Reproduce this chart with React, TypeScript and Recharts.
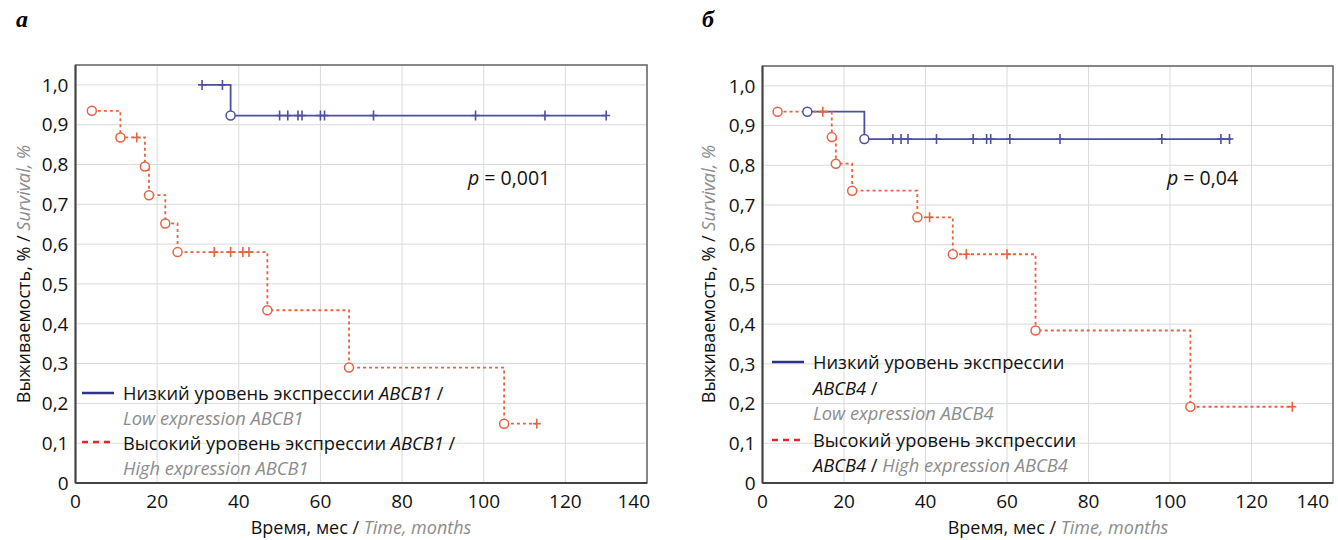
import { ComposedChart, Line, Scatter, XAxis, YAxis, CartesianGrid, ReferenceArea } from 'recharts';

const xTicks = [0, 20, 40, 60, 80, 100, 120, 140];
const yTicks = [0, 0.1, 0.2, 0.3, 0.4, 0.5, 0.6, 0.7, 0.8, 0.9, 1.0];

// panel a — ABCB1
const lowAbcb1Time = [31, 38, 130];
const lowAbcb1Surv = [1.0, 0.923, 0.923];
const lowAbcb1Events = [38];
const lowAbcb1Censored = [31, 36, 50, 52, 54.5, 55.5, 60, 61, 73, 98, 115, 130];

const highAbcb1Time = [4, 11, 17, 18, 22, 25, 47, 67, 105, 113];
const highAbcb1Surv = [0.935, 0.868, 0.795, 0.723, 0.652, 0.58, 0.434, 0.29, 0.149, 0.149];
const highAbcb1Events = [4, 11, 17, 18, 22, 25, 47, 67, 105];
const highAbcb1Censored = [15, 34, 38, 41, 42.5, 113];

// panel б — ABCB4
const lowAbcb4Time = [11, 25, 115];
const lowAbcb4Surv = [0.935, 0.866, 0.866];
const lowAbcb4Events = [11, 25];
const lowAbcb4Censored = [32, 34, 35.7, 42.7, 51.7, 55, 56, 60.7, 73, 98, 112.5, 114.6];

const highAbcb4Time = [3.7, 17, 18, 22, 38, 46.7, 67, 105, 130];
const highAbcb4Surv = [0.935, 0.871, 0.804, 0.736, 0.669, 0.576, 0.384, 0.192, 0.192];
const highAbcb4Events = [3.7, 17, 18, 22, 38, 46.7, 67, 105];
const highAbcb4Censored = [14.8, 41, 50, 60, 130];

const BLUE = '#4c509f';
const RED = '#e8623f';
const GRAY = '#8c8c8c';
const FONT = '"Open Sans", sans-serif';

const toPoints = (t: number[], s: number[]) => t.map((v, i) => ({ t: v, s: s[i] }));

// survival value of a step curve at time x
const survAt = (t: number[], s: number[], x: number) => {
  let v = s[0];
  t.forEach((tt, i) => {
    if (tt <= x) v = s[i];
  });
  return v;
};

const onCurve = (t: number[], s: number[], marks: number[]) =>
  marks.map((m) => ({ t: m, s: survAt(t, s, m) }));

const censorShape = (color: string) => (props: any) => {
  const { cx, cy } = props;
  return (
    <g>
      <line x1={cx} x2={cx} y1={cy - 5} y2={cy + 5} stroke={color} strokeWidth={1.6} />
      <line x1={cx - 4} x2={cx + 4} y1={cy} y2={cy} stroke={color} strokeWidth={1.6} />
    </g>
  );
};

const eventShape = (color: string) => (props: any) => {
  const { cx, cy } = props;
  return <circle cx={cx} cy={cy} r={4.5} fill="#fff" stroke={color} strokeWidth={1.5} />;
};

const fmt = (v: number) => (v === 0 ? '0' : v.toFixed(1).replace('.', ','));

// last x label sits flush against the right border, as in the original
const XTick = (props: any) => {
  const { x, y, payload } = props;
  const last = payload.value === xTicks[xTicks.length - 1];
  return (
    <text
      x={last ? x + 3 : x}
      y={y}
      dy="0.71em"
      textAnchor={last ? 'end' : 'middle'}
      fill="#111"
      fontSize={19}
      fontFamily={FONT}
    >
      {payload.value}
    </text>
  );
};

interface PanelProps {
  width: number;
  top: number;
  right: number;
  axisWidth: number;
  low: { t: number[]; s: number[]; ev: number[]; cens: number[] };
  high: { t: number[]; s: number[]; ev: number[]; cens: number[] };
}

const Panel = ({ width, top, right, axisWidth, low, high }: PanelProps) => (
  <ComposedChart width={width} height={540} margin={{ top, right, bottom: 27, left: 0 }}>
    <CartesianGrid stroke="#dadada" strokeWidth={1} />
    <XAxis
      type="number"
      dataKey="t"
      domain={[0, 140]}
      ticks={xTicks}
      allowDataOverflow
      height={30}
      tickSize={0}
      tickMargin={12}
      tick={<XTick />}
      axisLine={{ stroke: '#444', strokeWidth: 2 }}
    />
    <YAxis
      type="number"
      dataKey="s"
      domain={[0, 1.05]}
      ticks={yTicks}
      allowDataOverflow
      width={axisWidth}
      tickSize={0}
      tickMargin={7}
      tickFormatter={fmt}
      tick={{ fill: '#111', fontSize: 19, fontFamily: FONT }}
      axisLine={{ stroke: '#444', strokeWidth: 2 }}
    />
    <ReferenceArea x1={0} x2={140} y1={0} y2={1.05} fill="none" stroke="#666" strokeWidth={1.5} />
    <Line
      data={toPoints(low.t, low.s)}
      dataKey="s"
      type="stepAfter"
      stroke={BLUE}
      strokeWidth={1.8}
      dot={false}
      activeDot={false}
      isAnimationActive={false}
    />
    <Line
      data={toPoints(high.t, high.s)}
      dataKey="s"
      type="stepAfter"
      stroke={RED}
      strokeWidth={1.8}
      strokeDasharray="3 3"
      dot={false}
      activeDot={false}
      isAnimationActive={false}
    />
    <Scatter data={onCurve(low.t, low.s, low.cens)} dataKey="s" shape={censorShape(BLUE)} isAnimationActive={false} />
    <Scatter data={onCurve(high.t, high.s, high.cens)} dataKey="s" shape={censorShape(RED)} isAnimationActive={false} />
    <Scatter data={onCurve(low.t, low.s, low.ev)} dataKey="s" shape={eventShape(BLUE)} isAnimationActive={false} />
    <Scatter data={onCurve(high.t, high.s, high.ev)} dataKey="s" shape={eventShape(RED)} isAnimationActive={false} />
  </ComposedChart>
);

const abs = (left: number, top: number, extra: React.CSSProperties = {}): React.CSSProperties => ({
  position: 'absolute',
  left,
  top,
  whiteSpace: 'nowrap',
  fontFamily: FONT,
  ...extra,
});

const LegendLine = ({ left, top, color, dashed }: { left: number; top: number; color: string; dashed?: boolean }) => (
  <svg style={{ position: 'absolute', left, top: top - 2 }} width={32} height={4}>
    <line x1={0} x2={32} y1={2} y2={2} stroke={color} strokeWidth={2.5} strokeDasharray={dashed ? '6 5' : undefined} />
  </svg>
);

const legendText = { fontSize: 18.3, lineHeight: '25px' };
const gi = { color: GRAY, fontStyle: 'italic' as const, display: 'inline-block' as const };
const it = { fontStyle: 'italic' as const, display: 'inline-block' as const };

export default function App() {
  return (
    <div style={{ position: 'absolute', left: 0, top: 0, width: 1338, height: 540, background: '#fff' }}>
      <div style={abs(0, 0)}>
        <Panel
          width={660}
          top={65}
          right={13}
          axisWidth={75.5}
          low={{ t: lowAbcb1Time, s: lowAbcb1Surv, ev: lowAbcb1Events, cens: lowAbcb1Censored }}
          high={{ t: highAbcb1Time, s: highAbcb1Surv, ev: highAbcb1Events, cens: highAbcb1Censored }}
        />
      </div>
      <div style={abs(690, 0)}>
        <Panel
          width={648}
          top={66}
          right={5}
          axisWidth={72.5}
          low={{ t: lowAbcb4Time, s: lowAbcb4Surv, ev: lowAbcb4Events, cens: lowAbcb4Censored }}
          high={{ t: highAbcb4Time, s: highAbcb4Surv, ev: highAbcb4Events, cens: highAbcb4Censored }}
        />
      </div>

      {/* panel letters */}
      <div style={abs(16, 6, { fontFamily: '"Liberation Serif", serif', fontWeight: 'bold', fontStyle: 'italic', fontSize: 24 })}>a</div>
      <div style={abs(702, 6, { fontFamily: '"Liberation Serif", serif', fontWeight: 'bold', fontStyle: 'italic', fontSize: 24 })}>б</div>

      {/* y labels */}
      {[23, 708].map((x) => (
        <div
          key={x}
          style={abs(x, 274, { fontSize: 18, transform: 'translate(-50%, -50%) rotate(-90deg)', color: '#111' })}
        >
          Выживаемость, % / <span style={gi}>Survival, %</span>
        </div>
      ))}

      {/* x labels */}
      {[361, 1058].map((x) => (
        <div key={x} style={abs(x, 527, { fontSize: 18, transform: 'translate(-50%, -50%)', color: '#111' })}>
          Время, мес / <span style={gi}>Time, months</span>
        </div>
      ))}

      {/* p values */}
      <div style={abs(468, 165, { ...legendText, fontSize: 19.5, color: '#111' })}>
        <span style={it}>p</span> = 0,001
      </div>
      <div style={abs(1167, 165, { ...legendText, fontSize: 19.5, color: '#111' })}>
        <span style={it}>p</span> = 0,04
      </div>

      {/* legend a */}
      <LegendLine left={82} top={393} color="#2e3192" />
      <div style={abs(123, 380, { ...legendText, color: '#111' })}>
        Низкий уровень экспрессии <span style={it}>ABCB1</span> /
      </div>
      <div style={abs(123, 405, { ...legendText, ...gi })}>Low expression ABCB1</div>
      <LegendLine left={82} top={442} color="#e3262c" dashed />
      <div style={abs(123, 430, { ...legendText, color: '#111' })}>
        Высокий уровень экспрессии <span style={it}>ABCB1</span> /
      </div>
      <div style={abs(123, 455, { ...legendText, ...gi })}>High expression ABCB1</div>

      {/* legend б */}
      <LegendLine left={772} top={362} color="#2e3192" />
      <div style={abs(813, 349, { ...legendText, color: '#111' })}>Низкий уровень экспрессии</div>
      <div style={abs(813, 375, { ...legendText, color: '#111' })}>
        <span style={it}>ABCB4</span> /
      </div>
      <div style={abs(813, 400, { ...legendText, ...gi })}>Low expression ABCB4</div>
      <LegendLine left={772} top={440} color="#e3262c" dashed />
      <div style={abs(813, 427, { ...legendText, color: '#111' })}>Высокий уровень экспрессии</div>
      <div style={abs(813, 452, { ...legendText, color: '#111' })}>
        <span style={it}>ABCB4</span> / <span style={gi}>High expression ABCB4</span>
      </div>
    </div>
  );
}
